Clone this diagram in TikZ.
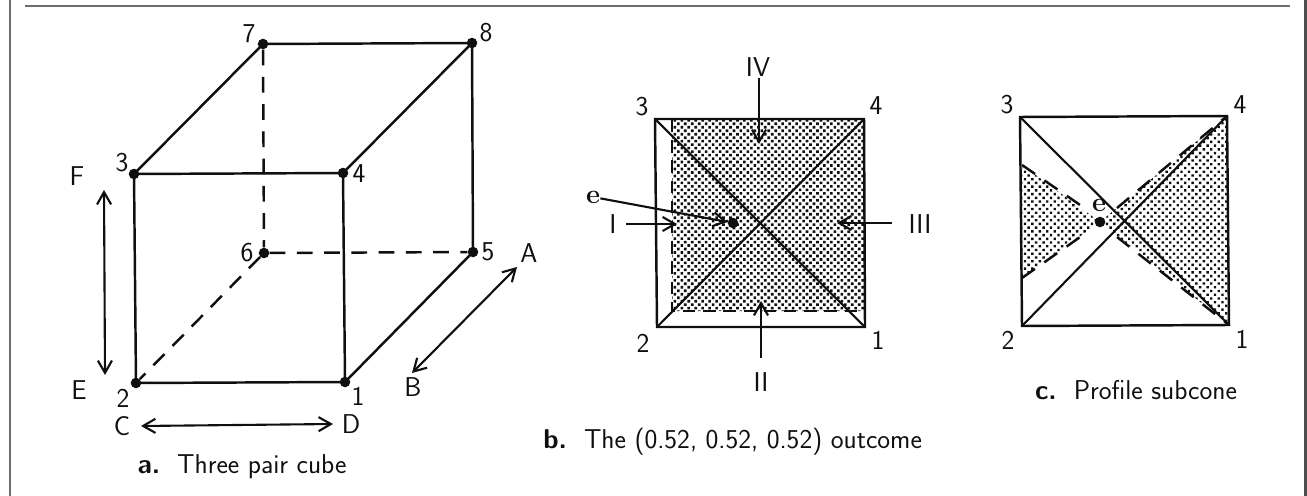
\documentclass[tikz,border=0pt]{standalone}
\usepackage{tikz}
\usetikzlibrary{arrows.meta, patterns.meta}
\definecolor{framecolor}{RGB}{110,110,110}
\definecolor{inkcolor}{RGB}{15,15,15}
\begin{document}
\begin{tikzpicture}[x=0.02cm,y=-0.02cm,font=\fontsize{15.5}{18}\selectfont\sffamily,text=inkcolor]
  \tikzset{
    edgeline/.style={draw=inkcolor, line width=1.4pt},
    hiddenline/.style={draw=inkcolor, line width=1.4pt, dash pattern=on 9pt off 6.5pt},
    shortdash/.style={draw=inkcolor, line width=1.4pt, dash pattern=on 7pt off 4.5pt},
    thinline/.style={draw=inkcolor, line width=1.2pt},
    pointer/.style={draw=inkcolor, line width=1.2pt, {Straight Barb[length=7pt,width=8pt]}-{Straight Barb[length=7pt,width=8pt]}},
    onepointer/.style={draw=inkcolor, line width=1.2pt, -{Straight Barb[length=7pt,width=8pt]}},
    vertex/.style={circle, fill=inkcolor, inner sep=0pt, minimum size=6pt},
    spot/.style={circle, fill=inkcolor, inner sep=0pt, minimum size=1pt},
    label/.style={inner sep=0pt},
    dark area/.style={pattern={Dots[distance=2.8pt, radius=1.05pt, angle=45]}, pattern color=inkcolor},
    light area/.style={pattern={Dots[distance=3pt, radius=0.95pt, angle=45]}, pattern color=inkcolor}
  }
  \useasboundingbox (0,0) rectangle (1307,496);
  % Page rules
  \draw[framecolor, line width=1.2pt] (10,0) -- (10,496);
  \draw[framecolor, line width=1.2pt] (25,5.7) -- (1290,5.7);
  \draw[framecolor!70!black, line width=1.2pt] (1305.5,0) -- (1305.5,496);

  % Cube
  \node[vertex] (v1) at (345,382) {};
  \node[vertex] (v2) at (136,383) {};
  \node[vertex] (v3) at (134,174) {};
  \node[vertex] (v4) at (343,173) {};
  \node[vertex] (v5) at (473,252) {};
  \node[vertex] (v6) at (264,253) {};
  \node[vertex] (v7) at (263,44) {};
  \node[vertex] (v8) at (472,43) {};
  \draw[edgeline] (v2.center) -- (v1.center) -- (v4.center) -- (v3.center) -- cycle;
  \draw[edgeline] (v3.center) -- (v7.center) -- (v8.center) -- (v4.center);
  \draw[edgeline] (v8.center) -- (v5.center) -- (v1.center);
  \draw[hiddenline] (v7) -- (v6);
  \draw[hiddenline] (v6) -- (v5);
  \draw[hiddenline] (v6) -- (v2);
  \node[label] (n1) at (358,396) {1};
  \node[label] (n2) at (123,398) {2};
  \node[label] (n3) at (122,163) {3};
  \node[label] (n4) at (359,174) {4};
  \node[label] (n5) at (488,252) {5};
  \node[label] (n6) at (247,253) {6};
  \node[label] (n7) at (249,34) {7};
  \node[label] (n8) at (486,33) {8};
  % Direction pairs
  \node[label] (labA) at (529,253) {A};
  \node[label] (labB) at (413,387) {B};
  \node[label] (labC) at (122,426) {C};
  \node[label] (labD) at (351,424) {D};
  \node[label] (labE) at (79,390) {E};
  \node[label] (labF) at (77,176) {F};
  \coordinate (A) at (517,267);
  \coordinate (B) at (412,373);
  \coordinate (C) at (141,426);
  \coordinate (D) at (333,424);
  \coordinate (E) at (105,375);
  \coordinate (F) at (104,190);
  \draw[pointer] (B) -- (A);
  \draw[pointer] (C) -- (D);
  \draw[pointer] (E) -- (F);
  \node (capa) at (242,467) {\textbf{a.}\ \ Three pair cube};

  % Middle square
  \node[spot] (m1) at (865,327) {};
  \node[spot] (m2) at (657,327) {};
  \node[spot] (m3) at (655,119) {};
  \node[spot] (m4) at (864,119) {};
  \coordinate (ma) at (672,120);
  \coordinate (mb) at (672,311);
  \coordinate (mr) at (865,311);
  \fill[dark area] (ma) -- (m4.center) -- (mr) -- (mb) -- cycle;
  \draw[edgeline] (m2.center) -- (m1.center) -- (m4.center) -- (m3.center) -- cycle;
  \draw[thinline] (m3.center) -- (m1.center);
  \draw[thinline] (m2.center) -- (m4.center);
  \draw[shortdash] (ma) -- (mb) -- (mr);
  \node[label] (q1) at (878,340) {1};
  \node[label] (q2) at (643,343) {2};
  \node[label] (q3) at (642,107) {3};
  \node[label] (q4) at (876,106) {4};
  \node[label] (mI) at (613,224) {I};
  \node[label] (mII) at (761,382) {II};
  \node[label] (mIII) at (920,224) {III};
  \node[label] (mIV) at (758,67) {IV};
  \node[label] (me) at (593,197) {\textbf{\rmfamily e}};
  \node[vertex] (meq) at (733,223) {};
  \coordinate (aI) at (626,224);
  \coordinate (hI) at (677,224);
  \coordinate (aII) at (761,358);
  \coordinate (hII) at (761,301);
  \coordinate (aIII) at (892,223);
  \coordinate (hIII) at (837,223);
  \coordinate (aIV) at (759,78);
  \coordinate (hIV) at (759,144);
  \draw[onepointer] (aI) -- (hI);
  \draw[onepointer] (aII) -- (hII);
  \draw[onepointer] (aIII) -- (hIII);
  \draw[onepointer] (aIV) -- (hIV);
  \draw[onepointer] (me) -- (meq);
  \node[label, anchor=west] (capb) at (543,442) {\textbf{b.}\ \ The (0.52, 0.52, 0.52) outcome};

  % Right square
  \node[spot] (r1) at (1229,325) {};
  \node[spot] (r2) at (1022,326) {};
  \node[spot] (r3) at (1020,117) {};
  \node[spot] (r4) at (1227,116) {};
  \coordinate (req0) at (1100,222);
  \coordinate (ra) at (1022,165);
  \coordinate (rb) at (1022,278);
  \coordinate (d1) at (1083,207);
  \coordinate (d2) at (1083,235);
  \coordinate (d3) at (1117,208);
  \coordinate (d4) at (1117,237);
  \fill[light area] (req0) -- (r4.center) -- (r1.center) -- cycle;
  \fill[light area] (req0) -- (ra) -- (rb) -- cycle;
  \draw[edgeline] (r2.center) -- (r1.center) -- (r4.center) -- (r3.center) -- cycle;
  \draw[thinline] (r3.center) -- (r1.center);
  \draw[thinline] (r2.center) -- (r4.center);
  \draw[hiddenline] (ra) -- (d1);
  \draw[hiddenline] (rb) -- (d2);
  \draw[hiddenline] (d3) -- (r4.center);
  \draw[hiddenline] (d4) -- (r1.center);
  \node[vertex] (req) at (req0) {};
  \node[label] (re) at (1099,205) {\textbf{\rmfamily e}};
  \node[label] (s1) at (1242,339) {1};
  \node[label] (s2) at (1008,340) {2};
  \node[label] (s3) at (1007,105) {3};
  \node[label] (s4) at (1240,105) {4};
  \node (capc) at (1136,390) {\textbf{c.}\ \ Profile subcone};
\end{tikzpicture}
\end{document}
